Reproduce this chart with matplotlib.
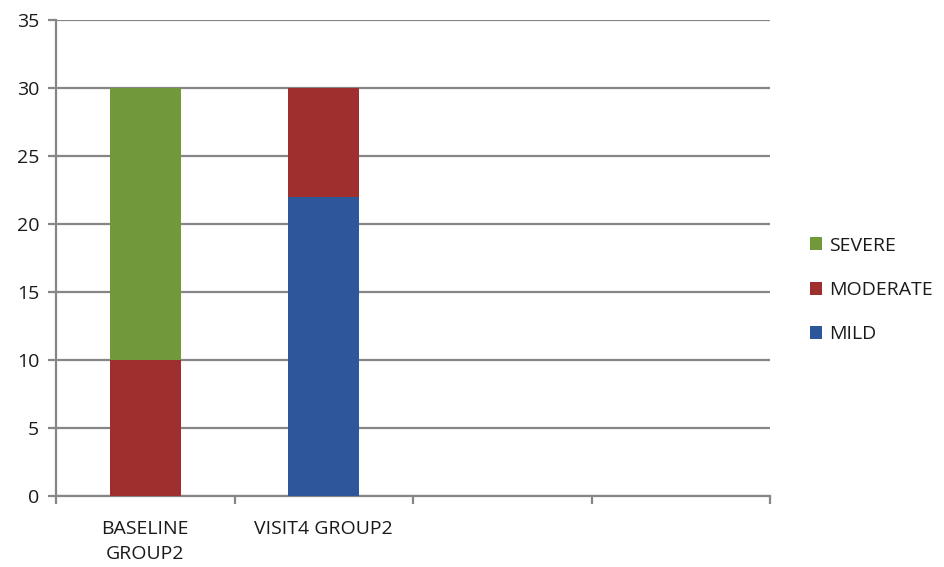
import matplotlib
matplotlib.use("Agg")
import matplotlib.pyplot as plt
import numpy as np

categories = ["BASELINE\nGROUP2", "VISIT4 GROUP2", "", ""]
mild = [0, 22, 0, 0]
moderate = [10, 8, 0, 0]
severe = [20, 0, 0, 0]

plt.rcParams['font.family'] = ['Open Sans', 'DejaVu Sans']

fig = plt.figure(figsize=(9.44, 5.67), dpi=100)
ax = fig.add_axes([56/944, 1-496/567, (770-56)/944, (496-20)/567])

x = np.arange(len(categories))
w = 0.40
c_mild = "#2D569B"
c_mod = "#9F2F2E"
c_sev = "#71993A"
b1 = ax.bar(x, mild, w, color=c_mild, label="MILD", zorder=3)
b2 = ax.bar(x, moderate, w, bottom=mild, color=c_mod, label="MODERATE", zorder=3)
bottom2 = np.array(mild) + np.array(moderate)
b3 = ax.bar(x, severe, w, bottom=bottom2, color=c_sev, label="SEVERE", zorder=3)

ax.set_xlim(-0.5, len(categories) - 0.5)
ax.set_ylim(0, 35)
ax.set_yticks(np.arange(0, 36, 5))
ax.yaxis.grid(True, color="#868686", linewidth=1.6, zorder=0)
ax.set_axisbelow(True)

for s in ["top", "right"]:
    ax.spines[s].set_visible(False)
for s in ["left", "bottom"]:
    ax.spines[s].set_color("#868686")
    ax.spines[s].set_linewidth(1.6)

ax.set_xticks(x)
ax.set_xticklabels(categories, fontsize=14, linespacing=1.55, color="#1a1a1a")
ax.tick_params(axis="x", which="major", length=0, pad=17)
ax.set_xticks(np.arange(-0.5, len(categories), 1.0), minor=True)
ax.tick_params(axis="x", which="minor", length=6, width=1.6, color="#868686")
ax.tick_params(axis="y", length=6, width=1.6, color="#868686", labelsize=14, labelcolor="#1a1a1a", pad=6)

handles = [b3, b2, b1]
leg = fig.legend(handles, ["SEVERE", "MODERATE", "MILD"], loc="center left",
                 bbox_to_anchor=(792/944, 1-290/567), frameon=False,
                 fontsize=14, handlelength=0.65, handleheight=0.65,
                 handletextpad=0.35, labelspacing=1.35)
for t in leg.get_texts():
    t.set_color("#1a1a1a")

fig.savefig("out.png", dpi=100)
